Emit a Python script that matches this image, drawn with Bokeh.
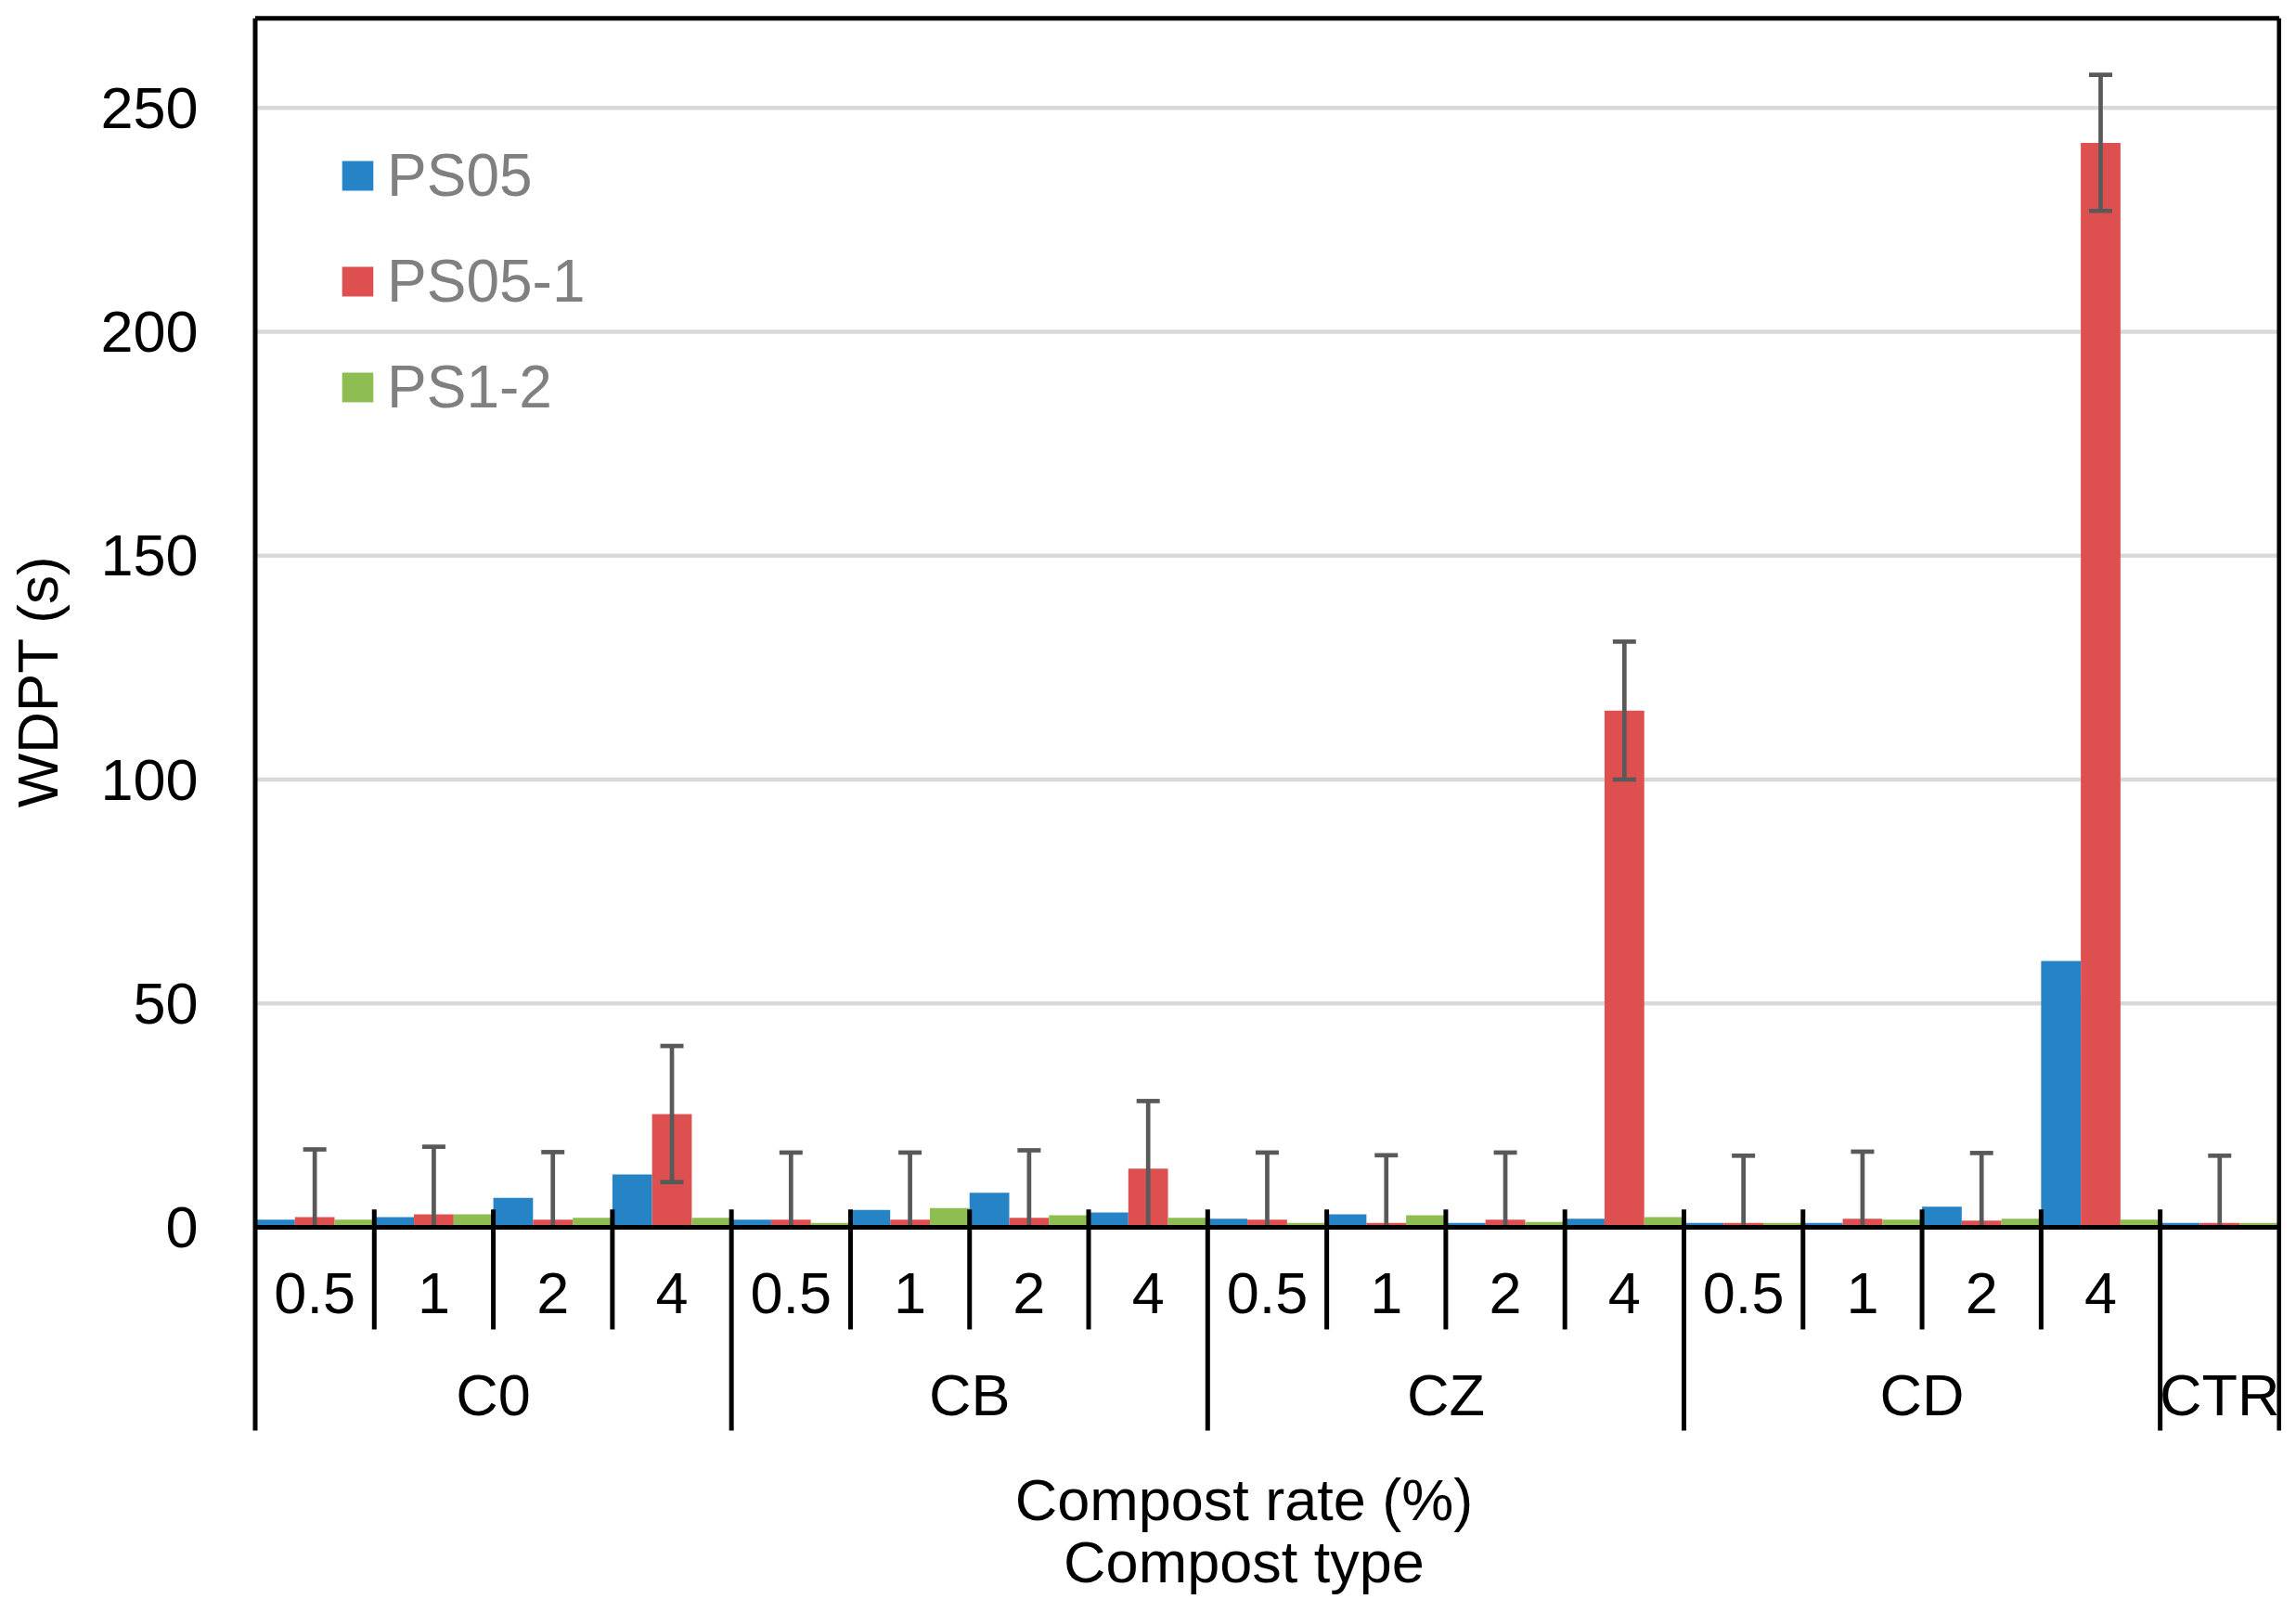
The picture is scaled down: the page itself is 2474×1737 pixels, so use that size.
import math
from bokeh.plotting import figure
from bokeh.models import Range1d
from bokeh.embed import file_html
from bokeh.resources import INLINE
from bokeh.core.properties import value

# ---------------- data ----------------
compost_types = ["C0", "CB", "CZ", "CD", "CTR"]
compost_rates = ["0.5", "1", "2", "4"]
categories = [(t, r) for t in compost_types[:4] for r in compost_rates] + [("CTR", "")]

series_names = ["PS05", "PS05-1", "PS1-2"]
ps05 = [1.7, 2.3, 6.6, 11.8,
        1.7, 3.9, 7.7, 3.3,
        1.9, 2.9, 1.0, 1.9,
        1.0, 1.0, 4.6, 59.5,
        1.0]
ps05_1 = [2.3, 2.9, 1.7, 25.3,
          1.7, 1.7, 2.1, 13.1,
          1.7, 1.0, 1.7, 115.4,
          1.0, 1.9, 1.5, 242.2,
          1.0]
ps1_2 = [1.7, 2.9, 2.1, 2.1,
         1.0, 4.3, 2.7, 2.1,
         1.0, 2.7, 1.2, 2.3,
         1.0, 1.7, 1.9, 1.7,
         1.0]
ps05_1_err = [15.1, 15.1, 15.1, 15.2,
              15.0, 15.0, 15.1, 15.1,
              15.0, 15.1, 15.0, 15.4,
              15.0, 15.0, 15.1, 15.2,
              15.0]
y_ticks = [0, 50, 100, 150, 200, 250]
y_tick_labels = [str(t) for t in y_ticks]
y_axis_title = "WDPT (s)"
x_axis_titles = ["Compost rate (%)", "Compost type"]

# ---------------- layout / style ----------------
colors = ["#2683c6", "#de5050", "#8ebd51"]
FONT = "Liberation Sans"
FS = "63px"
n = len(categories)
W, H = 2458, 1721
X0_PX, PX_PER_X = 274.5, 128.29      # screen position of x=0, px per category
Y0_PX, PX_PER_Y = 1322.0, 4.825      # screen position of y=0, px per second
Y_TOP = 270
SEP_TOP = 4
SHORT_BOTTOM = -22.8
LONG_BOTTOM = -45.4
RATE_Y = -14.7
TYPE_Y = -37.4
TITLE_Y = [-60.9, -74.8]
TITLE_X = 8.305
TICK_X = -0.479
YTITLE_X, YTITLE_Y = -1.828, 121.9
LW = 5
GW = 4.7

p = figure(width=W, height=H, output_backend="svg", toolbar_location=None,
           x_range=Range1d(-X0_PX / PX_PER_X, (W - X0_PX) / PX_PER_X),
           y_range=Range1d(-(H - Y0_PX) / PX_PER_Y, Y0_PX / PX_PER_Y),
           x_axis_location=None, y_axis_location=None,
           min_border=0)
p.outline_line_color = None
p.background_fill_color = "white"
p.border_fill_color = "white"
p.grid.visible = False

# horizontal gridlines
p.segment(x0=[0] * len(y_ticks), y0=y_ticks, x1=[n] * len(y_ticks), y1=y_ticks,
          line_color="#d9d9d9", line_width=GW)

# bars
for k, (name, vals) in enumerate(zip(series_names, [ps05, ps05_1, ps1_2])):
    p.vbar(x=[i + (k + 0.5) / 3 for i in range(n)], top=vals, bottom=0, width=1 / 3,
           fill_color=colors[k], line_color=None, legend_label=name)

# error bars (clipped at the axis, as in the original)
cap = 0.0974
ex = [i + 0.5 for i in range(n)]
hi = [v + e for v, e in zip(ps05_1, ps05_1_err)]
lo = [max(0.0, v - e) for v, e in zip(ps05_1, ps05_1_err)]
ecol = "#595959"
p.segment(x0=ex, y0=lo, x1=ex, y1=hi, line_color=ecol, line_width=GW)
p.segment(x0=[x - cap for x in ex], y0=hi, x1=[x + cap for x in ex], y1=hi,
          line_color=ecol, line_width=GW)
low_idx = [i for i in range(n) if ps05_1[i] - ps05_1_err[i] > 0]
p.segment(x0=[ex[i] - cap for i in low_idx], y0=[lo[i] for i in low_idx],
          x1=[ex[i] + cap for i in low_idx], y1=[lo[i] for i in low_idx],
          line_color=ecol, line_width=GW)

# frame lines, zero axis and category separators
p.segment(x0=[0], y0=[0], x1=[n], y1=[0], line_color="black", line_width=LW)
p.segment(x0=[0], y0=[Y_TOP], x1=[n], y1=[Y_TOP], line_color="black", line_width=LW)
p.segment(x0=[0, n], y0=[Y_TOP, Y_TOP], x1=[0, n], y1=[LONG_BOTTOM, LONG_BOTTOM],
          line_color="black", line_width=LW)
sx, sb = [], []
for i in range(1, n):
    sx.append(i)
    sb.append(LONG_BOTTOM if categories[i][0] != categories[i - 1][0] else SHORT_BOTTOM)
p.segment(x0=sx, y0=[SEP_TOP] * len(sx), x1=sx, y1=sb, line_color="black", line_width=LW)

# value-axis tick labels
p.text(x=[TICK_X] * len(y_ticks), y=y_ticks, text=y_tick_labels,
       text_font=value(FONT), text_font_size=value(FS), text_align="right",
       text_baseline="middle", text_color="black")

# category labels
txt = dict(text_font=value(FONT), text_font_size=value(FS), text_align="center",
           text_baseline="middle", text_color="black")
p.text(x=[i + 0.5 for i in range(n)], y=[RATE_Y] * n, text=[c[1] for c in categories], **txt)
gx = []
for t in compost_types:
    idx = [i for i, c in enumerate(categories) if c[0] == t]
    gx.append(sum(idx) / len(idx) + 0.5)
p.text(x=gx, y=[TYPE_Y] * len(gx), text=compost_types, **txt)

# axis titles
p.text(x=[TITLE_X, TITLE_X], y=TITLE_Y, text=x_axis_titles, **txt)
p.text(x=[YTITLE_X], y=[YTITLE_Y], text=[y_axis_title], angle=math.pi / 2,
       text_font=value(FONT), text_font_size=value("62px"), text_align="center",
       text_baseline="middle", text_color="black")

# legend
leg = p.legend[0]
leg.location = (364, 1264)
leg.padding = 0
leg.margin = 0
leg.spacing = 34
leg.border_line_color = None
leg.background_fill_alpha = 0
leg.glyph_width = 42
leg.glyph_height = 40
leg.label_height = 80
leg.label_standoff = 11
leg.label_text_font = FONT
leg.label_text_font_size = "64px"
leg.label_text_color = "#808080"

open("out.html", "w").write(file_html(p, INLINE))
